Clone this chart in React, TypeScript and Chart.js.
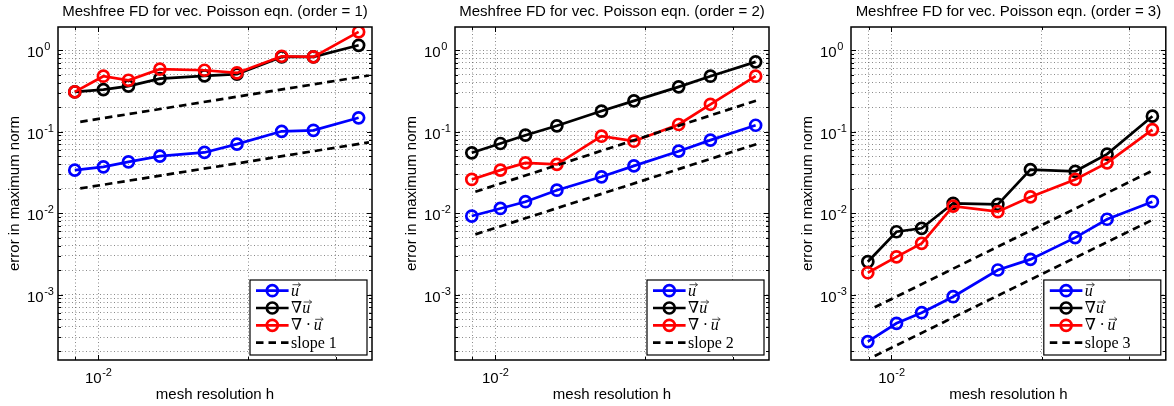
import React, { useEffect, useRef } from "react";
import { Chart, registerables } from "chart.js";
Chart.register(...registerables);

// ---------- data ----------
const meshH = [8.97e-3, 1.024e-2, 1.15e-2, 1.33e-2, 1.635e-2, 1.9e-2, 2.337e-2, 2.707e-2, 3.337e-2];

const order1U = [0.0337, 0.037, 0.0426, 0.05, 0.0556, 0.0703, 0.101, 0.104, 0.148];
const order1GradU = [0.308, 0.329, 0.362, 0.449, 0.484, 0.508, 0.828, 0.828, 1.15];
const order1DivU = [0.308, 0.48, 0.428, 0.585, 0.568, 0.527, 0.844, 0.83, 1.68];

const order2U = [0.0092, 0.0114, 0.0138, 0.0191, 0.0279, 0.038, 0.0576, 0.0787, 0.12];
const order2GradU = [0.055, 0.0716, 0.0906, 0.118, 0.179, 0.239, 0.355, 0.48, 0.72];
const order2DivU = [0.0259, 0.0337, 0.0414, 0.0396, 0.088, 0.0764, 0.1225, 0.217, 0.48];

const order3U = [2.64e-4, 4.43e-4, 5.98e-4, 9.4e-4, 0.002, 0.0027, 0.005, 0.0084, 0.0138];
const order3GradU = [0.00253, 0.0059, 0.0065, 0.0132, 0.0128, 0.0342, 0.0326, 0.053, 0.155];
const order3DivU = [0.00185, 0.0029, 0.00425, 0.0122, 0.0104, 0.0158, 0.0259, 0.0414, 0.106];

const slope1H = [9.2e-3, 3.5e-2];
const slope1Upper = [0.132, 0.49];
const slope1Lower = [0.0201, 0.074];
const slope2H = [9.12e-3, 3.41e-2];
const slope2Upper = [0.0183, 0.25];
const slope2Lower = [0.00548, 0.0729];
const slope3H = [9.26e-3, 3.33e-2];
const slope3Upper = [6.97e-4, 0.033];
const slope3Lower = [1.76e-4, 0.0082];

const xRange = [8.3e-3, 3.55e-2];
const yRange = [1.57e-4, 1.93];
const xGridTicks = [9e-3, 1e-2, 2e-2, 3e-2];
const xLabelTicks = [1e-2];
const yLabelTicks = [1, 1e-1, 1e-2, 1e-3];

const panelTitles = [
  "Meshfree FD for vec. Poisson eqn. (order = 1)",
  "Meshfree FD for vec. Poisson eqn. (order = 2)",
  "Meshfree FD for vec. Poisson eqn. (order = 3)",
];
const slopeLabels = ["slope 1", "slope 2", "slope 3"];
const xAxisTitle = "mesh resolution h";
const yAxisTitle = "error in maximum norm";

const panelData = [
  { u: order1U, grad: order1GradU, div: order1DivU, sh: slope1H, su: slope1Upper, sl: slope1Lower },
  { u: order2U, grad: order2GradU, div: order2DivU, sh: slope2H, su: slope2Upper, sl: slope2Lower },
  { u: order3U, grad: order3GradU, div: order3DivU, sh: slope3H, su: slope3Upper, sl: slope3Lower },
];

// ---------- layout ----------
const PANELS = [
  { left: 0, width: 391, chartLeft: 58, chartRight: 372 },
  { left: 391, width: 391, chartLeft: 455, chartRight: 769 },
  { left: 782, width: 392, chartLeft: 851, chartRight: 1166 },
];
const CHART_TOP = 27;
const CHART_BOTTOM = 360;
const H = 406;

const SANS = "'Liberation Sans', Arial, sans-serif";
const SERIF = "'Liberation Serif', 'DejaVu Serif', serif";
const BLUE = "#0000ff";
const RED = "#ff0000";
const BLACK = "#000000";
const GRID = "rgba(60,60,60,0.6)";

function yGridTicks(): number[] {
  const out: number[] = [];
  for (let e = -4; e <= 0; e++) {
    for (let m = 1; m <= 9; m++) {
      const v = m * Math.pow(10, e);
      if (v >= yRange[0] && v <= yRange[1]) out.push(v);
    }
  }
  return out;
}

function isDecade(v: number) {
  const l = Math.log10(v);
  return Math.abs(l - Math.round(l)) < 1e-9;
}

function drawPow(ctx: CanvasRenderingContext2D, v: number, x: number, baseY: number, align: "left" | "center") {
  const exp = String(Math.round(Math.log10(v)));
  ctx.font = `15px ${SANS}`;
  const w1 = ctx.measureText("10").width;
  ctx.font = `11px ${SANS}`;
  const w2 = ctx.measureText(exp).width;
  const total = w1 + w2;
  const sx = align === "left" ? x : x - total / 2;
  ctx.textAlign = "left";
  ctx.textBaseline = "alphabetic";
  ctx.fillStyle = "#000";
  ctx.font = `15px ${SANS}`;
  ctx.fillText("10", sx, baseY);
  ctx.font = `11px ${SANS}`;
  ctx.fillText(exp, sx + w1 + 0.5, baseY - 7);
}

function drawVecU(ctx: CanvasRenderingContext2D, x: number, baseY: number) {
  ctx.font = `italic 16px ${SERIF}`;
  const w = ctx.measureText("u").width;
  ctx.fillText("u", x, baseY);
  const ay = baseY - 11;
  const x0 = x + 1.5;
  const x1 = x + w + 1.5;
  ctx.save();
  ctx.strokeStyle = "#222";
  ctx.lineWidth = 0.8;
  ctx.beginPath();
  ctx.moveTo(x0, ay);
  ctx.lineTo(x1, ay);
  ctx.moveTo(x1 - 2.5, ay - 2);
  ctx.lineTo(x1, ay);
  ctx.lineTo(x1 - 2.5, ay + 2);
  ctx.stroke();
  ctx.restore();
  return w;
}

function makeDecor(idx: number) {
  return {
    id: "decor" + idx,
    afterDraw(chart: any) {
      const ctx: CanvasRenderingContext2D = chart.ctx;
      const ca = chart.chartArea;
      const xs = chart.scales.x;
      const ys = chart.scales.y;
      ctx.save();
      // inward ticks
      ctx.strokeStyle = "#000";
      ctx.lineWidth = 1;
      ctx.beginPath();
      ys.ticks.forEach((t: any) => {
        const y = Math.round(ys.getPixelForValue(t.value)) + 0.5;
        const len = isDecade(t.value) ? 5 : 3;
        ctx.moveTo(ca.left, y);
        ctx.lineTo(ca.left + len, y);
        ctx.moveTo(ca.right, y);
        ctx.lineTo(ca.right - len, y);
      });
      xs.ticks.forEach((t: any) => {
        const x = Math.round(xs.getPixelForValue(t.value)) + 0.5;
        const len = isDecade(t.value) ? 5 : 3;
        ctx.moveTo(x, ca.bottom);
        ctx.lineTo(x, ca.bottom - len);
        ctx.moveTo(x, ca.top);
        ctx.lineTo(x, ca.top + len);
      });
      ctx.stroke();
      // box
      ctx.lineWidth = 1.5;
      ctx.strokeRect(ca.left, ca.top, ca.right - ca.left, ca.bottom - ca.top);

      // tick labels
      yLabelTicks.forEach((v) => {
        const y = ys.getPixelForValue(v);
        drawPow(ctx, v, ca.left - 31, y + 7, "left");
      });
      xLabelTicks.forEach((v) => {
        const x = xs.getPixelForValue(v);
        drawPow(ctx, v, x, 382.5, "center");
      });

      // titles
      const cx = (ca.left + ca.right) / 2;
      ctx.fillStyle = "#000";
      ctx.font = `15px ${SANS}`;
      ctx.textAlign = "center";
      ctx.textBaseline = "alphabetic";
      ctx.fillText(panelTitles[idx], cx, 15.5);
      ctx.fillText(xAxisTitle, cx, 399);
      ctx.save();
      ctx.translate(ca.left - 39, (ca.top + ca.bottom) / 2);
      ctx.rotate(-Math.PI / 2);
      ctx.fillText(yAxisTitle, 0, 0);
      ctx.restore();

      // legend
      const bw = 117;
      const bh = 75;
      const bx = ca.right - 5 - bw;
      const by = ca.bottom - 5 - bh;
      ctx.fillStyle = "#fff";
      ctx.fillRect(bx, by, bw, bh);
      ctx.strokeStyle = "#000";
      ctx.lineWidth = 1.2;
      ctx.strokeRect(bx, by, bw, bh);
      const rows = [
        { color: BLUE, dash: false, label: "u" },
        { color: BLACK, dash: false, label: "grad" },
        { color: RED, dash: false, label: "div" },
        { color: BLACK, dash: true, label: "slope" },
      ];
      rows.forEach((r, i) => {
        const ry = by + 10.7 + 17.3 * i;
        ctx.save();
        ctx.strokeStyle = r.color;
        ctx.lineWidth = 2.7;
        if (r.dash) ctx.setLineDash([7.5, 5]);
        ctx.beginPath();
        ctx.moveTo(bx + 6, ry);
        ctx.lineTo(bx + 38.6, ry);
        ctx.stroke();
        ctx.setLineDash([]);
        if (!r.dash) {
          ctx.beginPath();
          ctx.arc(bx + 22.3, ry, 5.5, 0, Math.PI * 2);
          ctx.stroke();
        }
        ctx.restore();
        const tx = bx + 41;
        const ty = ry + 5;
        ctx.fillStyle = "#000";
        ctx.textAlign = "left";
        ctx.textBaseline = "alphabetic";
        if (r.label === "u") {
          drawVecU(ctx, tx, ty);
        } else if (r.label === "grad") {
          ctx.font = `16px ${SERIF}`;
          const w = ctx.measureText("\u2207").width;
          ctx.fillText("\u2207", tx, ty);
          drawVecU(ctx, tx + w, ty);
        } else if (r.label === "div") {
          ctx.font = `16px ${SERIF}`;
          const w = ctx.measureText("\u2207").width;
          ctx.fillText("\u2207", tx, ty);
          ctx.fillText("\u00b7", tx + w + 3.5, ty);
          drawVecU(ctx, tx + w + 11.5, ty);
        } else {
          ctx.font = `16px ${SERIF}`;
          ctx.fillText(slopeLabels[idx], tx, ty);
        }
      });
      ctx.restore();
    },
  };
}

function series(xsArr: number[], ysArr: number[]) {
  return xsArr.map((x, k) => ({ x, y: ysArr[k] }));
}

function makeChart(canvas: HTMLCanvasElement, idx: number) {
  const p = PANELS[idx];
  const d = panelData[idx];
  const lineDs = (vals: number[], color: string, order: number) => ({
    data: series(meshH, vals),
    borderColor: color,
    backgroundColor: color,
    borderWidth: 2.7,
    pointRadius: 5.5,
    pointBorderWidth: 2.7,
    pointBackgroundColor: "rgba(0,0,0,0)",
    pointBorderColor: color,
    pointHoverRadius: 5.5,
    tension: 0,
    order,
  });
  const slopeDs = (vals: number[]) => ({
    data: series(d.sh, vals),
    borderColor: BLACK,
    borderWidth: 2.7,
    borderDash: [7.5, 5],
    pointRadius: 0,
    tension: 0,
    order: 1,
  });
  return new Chart(canvas, {
    type: "line",
    data: {
      datasets: [
        lineDs(d.u, BLUE, 5),
        lineDs(d.grad, BLACK, 4),
        lineDs(d.div, RED, 3),
        slopeDs(d.su),
        slopeDs(d.sl),
      ] as any,
    },
    options: {
      animation: false,
      responsive: false,
      devicePixelRatio: 1,
      events: [],
      layout: {
        padding: { left: 0, top: CHART_TOP, right: p.width - (p.chartRight - p.left), bottom: 0 },
      },
      plugins: {
        legend: { display: false },
        tooltip: { enabled: false },
        title: { display: false },
      },
      scales: {
        x: {
          type: "logarithmic",
          min: xRange[0],
          max: xRange[1],
          ticks: { display: false },
          grid: { color: GRID, lineWidth: 1, drawTicks: false, tickLength: 0 },
          border: { display: false, dash: [1, 2.5] },
          afterBuildTicks: (s: any) => {
            s.ticks = xGridTicks.map((v) => ({ value: v }));
          },
          afterFit: (s: any) => {
            s.height = H - CHART_BOTTOM;
          },
        },
        y: {
          type: "logarithmic",
          min: yRange[0],
          max: yRange[1],
          ticks: { display: false },
          grid: { color: GRID, lineWidth: 1, drawTicks: false, tickLength: 0 },
          border: { display: false, dash: [1, 2.5] },
          afterBuildTicks: (s: any) => {
            s.ticks = yGridTicks().map((v) => ({ value: v }));
          },
          afterFit: (s: any) => {
            s.width = p.chartLeft - p.left;
          },
        },
      },
    } as any,
    plugins: [makeDecor(idx)],
  });
}

export default function App() {
  const r0 = useRef<HTMLCanvasElement>(null);
  const r1 = useRef<HTMLCanvasElement>(null);
  const r2 = useRef<HTMLCanvasElement>(null);
  useEffect(() => {
    document.body.style.margin = "0";
    const refs = [r0, r1, r2];
    const charts = refs.map((r, i) => makeChart(r.current as HTMLCanvasElement, i));
    return () => charts.forEach((c) => c.destroy());
  }, []);
  const refs = [r0, r1, r2];
  return (
    <div style={{ position: "fixed", left: 0, top: 0, width: 1174, height: H, background: "#fff" }}>
      {PANELS.map((p, i) => (
        <canvas
          key={i}
          ref={refs[i]}
          width={p.width}
          height={H}
          style={{ position: "absolute", left: p.left, top: 0, width: p.width, height: H }}
        />
      ))}
    </div>
  );
}
